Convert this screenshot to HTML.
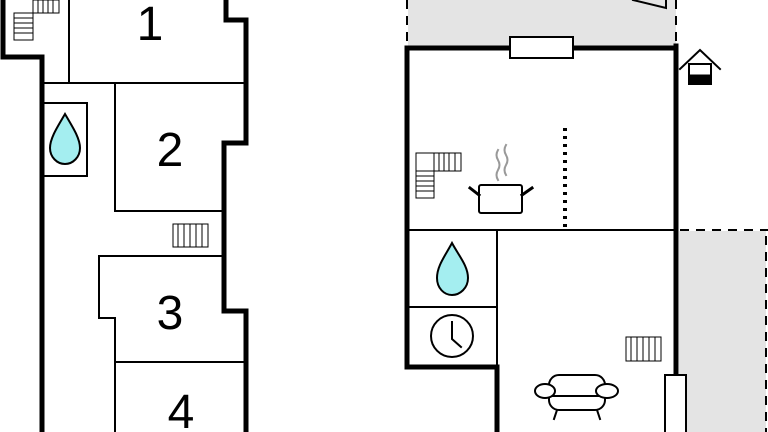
<!DOCTYPE html>
<html><head><style>body{margin:0;background:#fff}svg{display:block}</style></head>
<body>
<svg width="768" height="432" viewBox="0 0 768 432" xmlns="http://www.w3.org/2000/svg" font-family="Liberation Sans, sans-serif">
<rect x="408" y="0" width="268" height="47" fill="#e4e4e4"/>
<rect x="679" y="231" width="87" height="201" fill="#e4e4e4"/>
<g fill="none" stroke="#000" stroke-linecap="square">
<!-- Left plan -->
<polyline points="3,0 3,57 42,57 42,432" stroke-width="5"/>
<polyline points="226,0 226,20 246,20 246,143 224,143 224,311 246,311 246,432" stroke-width="5"/>
<g stroke-width="2">
<line x1="69" y1="0" x2="69" y2="83"/>
<line x1="42" y1="83" x2="245" y2="83"/>
<polyline points="115,83 115,211 224,211"/>
<rect x="43" y="103" width="44" height="73"/>
<polyline points="224,256 99,256 99,318 115,318 115,432"/>
<line x1="115" y1="362" x2="246" y2="362"/>
</g>
<g stroke-width="1">
<rect x="173" y="224" width="35" height="23"/>
<path d="M178,224v23M184,224v23M190,224v23M196,224v23M202,224v23"/>
<rect x="33" y="0" width="26" height="13"/>
<path d="M38,0v13M43,0v13M48,0v13M53,0v13"/>
<rect x="14" y="13" width="19" height="27"/>
<path d="M14,18h19M14,23h19M14,28h19M14,33h19"/>
</g>
<!-- Right plan -->
<g stroke-width="2" stroke-dasharray="9,7" stroke-linecap="butt">
<line x1="407" y1="0" x2="407" y2="45"/>
<line x1="676" y1="0" x2="676" y2="45"/>
<line x1="680" y1="230" x2="768" y2="230"/>
<line x1="766" y1="236" x2="766" y2="432"/>
</g>
<polyline points="676,48 407,48 407,367 497,367 497,432" stroke-width="5"/>
<line x1="676" y1="46" x2="676" y2="375" stroke-width="5"/>
<rect x="510" y="37" width="63" height="21" fill="#fff" stroke-width="2"/>
<g stroke-width="2">
<line x1="407" y1="230" x2="676" y2="230"/>
<line x1="497" y1="230" x2="497" y2="367"/>
<line x1="407" y1="307" x2="497" y2="307"/>
</g>
<rect x="665" y="375" width="21" height="60" fill="#fff" stroke-width="2"/>
<line x1="565" y1="128" x2="565" y2="230" stroke-width="4" stroke-dasharray="3,5" stroke-linecap="butt"/>
<path d="M633,0 L666,8 L666,0" stroke-width="2"/>
<!-- house -->
<path d="M680,69 L700,50 L720,69" stroke-width="2"/>
<rect x="689" y="64" width="22" height="20" stroke-width="2"/>
<rect x="689" y="75" width="22" height="9" fill="#000"/>
<!-- stairs L -->
<g stroke-width="1">
<rect x="416" y="153" width="45" height="18"/>
<path d="M434,153v18M439,153v18M444,153v18M449,153v18M455,153v18"/>
<rect x="416" y="171" width="18" height="27"/>
<path d="M416,176h18M416,181h18M416,186h18M416,191h18"/>
<rect x="626" y="337" width="35" height="24"/>
<path d="M631,337v24M637,337v24M643,337v24M649,337v24M655,337v24"/>
</g>
<!-- pot -->
<rect x="479" y="185" width="43" height="28" rx="2" stroke-width="2"/>
<path d="M479,195 L470,188 M522,195 L532,188" stroke-width="3"/>
<path d="M498,150 q-3,5 0,10 q3,5 0,10 q-3,5 0,10 M506,145 q-3,5 0,10 q3,5 0,10 q-3,5 0,10" stroke="#999" stroke-width="2"/>
<!-- clock -->
<circle cx="452" cy="336" r="21" stroke-width="2"/>
<path d="M452,322 V339 L461,347" stroke-width="2"/>
<!-- sofa -->
<g stroke-width="2">
<rect x="549" y="375" width="56" height="35" rx="10"/>
<line x1="549" y1="396" x2="605" y2="396"/>
<ellipse cx="545" cy="391" rx="10" ry="7" fill="#fff"/>
<ellipse cx="607" cy="391" rx="11" ry="7" fill="#fff"/>
<path d="M557,410 l-3,9 M597,410 l3,9"/>
</g>
</g>
<!-- drops -->
<g fill="#a4eef0" stroke="#000" stroke-width="2">
<path d="M65,114 C58,126 50,138 50,148 C50,157 57,164 65,164 C73,164 80,157 80,148 C80,138 72,126 65,114 Z"/>
<path d="M452,243 C445,256 437,266 437,278 C437,288 444,295 452,295 C460,295 468,288 468,278 C468,266 459,256 452,243 Z"/>
</g>
<g font-size="48" text-anchor="middle" fill="#000">
<text x="150" y="40">1</text>
<text x="170" y="166">2</text>
<text x="170" y="329">3</text>
<text x="181" y="428">4</text>
</g>
</svg>
</body></html>
